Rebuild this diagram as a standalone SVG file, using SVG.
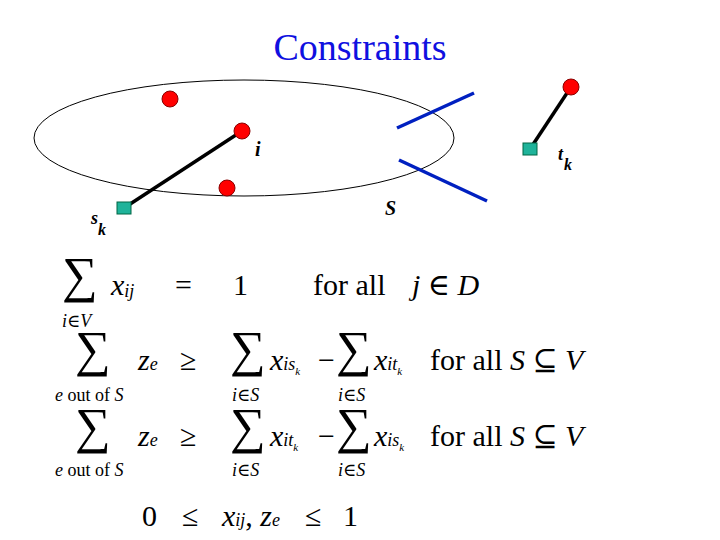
<svg xmlns="http://www.w3.org/2000/svg" width="720" height="540" viewBox="0 0 720 540" font-family="'Times New Roman','Liberation Serif','DejaVu Serif',serif">
<style>
.t{font-family:"Times New Roman","Liberation Serif","DejaVu Serif",serif;fill:#000}
.n{fill:#f00;stroke:#800;stroke-width:1}
.q{fill:#1fb39a;stroke:#064;stroke-width:1}
.bl{stroke:#0020c0;stroke-width:3.5}
.k{stroke:#000;stroke-width:3.5}
.sm{font-size:18px;font-style:italic}
.big{font-size:30px}
.sg{font-size:50px}
.it{font-style:italic}
</style>
<rect width="720" height="540" fill="#fff"/>
<text class="t" x="360" y="60" text-anchor="middle" font-size="38" style="fill:#1010e0">Constraints</text>
<ellipse id="S-set" cx="244" cy="138" rx="210" ry="58" fill="none" stroke="#000" stroke-width="1"/>
<g id="edges">
<line class="k" x1="124" y1="208" x2="242" y2="131"/>
<line class="k" x1="530" y1="149" x2="571" y2="87"/>
<line class="bl" x1="397" y1="128" x2="474" y2="93"/>
<line class="bl" x1="399" y1="160" x2="487" y2="201"/>
</g>
<g id="n1"><circle class="n" cx="170" cy="99" r="8"/></g>
<g id="ni"><circle class="n" cx="242" cy="131" r="8"/><text class="t it" x="255" y="156" font-size="20" font-weight="bold">i</text></g>
<g id="n3"><circle class="n" cx="227" cy="188" r="8"/></g>
<g id="n4"><circle class="n" cx="571" cy="87" r="8"/></g>
<g id="sk"><rect class="q" x="117" y="202" width="14" height="12"/><text class="t it" x="91" y="224" font-size="18" font-weight="bold">s</text><text class="t it" x="98" y="235" font-size="16" font-weight="bold">k</text></g>
<g id="tk"><rect class="q" x="523" y="143" width="14" height="12"/><text class="t it" x="558" y="160" font-size="18" font-weight="bold">t</text><text class="t it" x="564" y="170" font-size="16" font-weight="bold">k</text></g>
<text class="t it" x="385" y="215" font-size="20" font-weight="bold">S</text>
<g id="eqs" class="t">
<text class="t sg" x="62" y="292">∑</text>
<text class="t big it" x="111" y="295">x<tspan font-size="18" dy="2">ij</tspan></text>
<text class="t big" x="175" y="295">=</text>
<text class="t big" x="233" y="295">1</text>
<text class="t big" x="313" y="295">for all</text>
<text class="t big it" x="412" y="295">j <tspan font-style="normal">∈</tspan> D</text>
<text class="t sm" x="62" y="327">i<tspan font-style="normal">∈</tspan>V</text>

<text class="t sg" x="75" y="366">∑</text>
<text class="t big it" x="138" y="370">z<tspan font-size="18">e</tspan></text>
<text class="t big" x="180" y="370">≥</text>
<text class="t sg" x="230" y="366">∑</text>
<text class="t big it" x="270" y="370">x<tspan font-size="18">is</tspan><tspan font-size="11" dy="5">k</tspan></text>
<text class="t big" x="318" y="370">−</text>
<text class="t sg" x="336" y="366">∑</text>
<text class="t big it" x="374" y="370">x<tspan font-size="18">it</tspan><tspan font-size="11" dy="5">k</tspan></text>
<text class="t big" x="430" y="370">for all <tspan font-style="italic">S</tspan> ⊆ <tspan font-style="italic">V</tspan></text>
<text class="t" x="55" y="401" font-size="18"><tspan font-style="italic">e</tspan> out of <tspan font-style="italic">S</tspan></text>
<text class="t sm" x="232" y="401">i<tspan font-style="normal">∈</tspan>S</text>
<text class="t sm" x="338" y="401">i<tspan font-style="normal">∈</tspan>S</text>

<text class="t sg" x="75" y="443">∑</text>
<text class="t big it" x="138" y="446">z<tspan font-size="18">e</tspan></text>
<text class="t big" x="180" y="446">≥</text>
<text class="t sg" x="230" y="443">∑</text>
<text class="t big it" x="270" y="446">x<tspan font-size="18">it</tspan><tspan font-size="11" dy="5">k</tspan></text>
<text class="t big" x="318" y="446">−</text>
<text class="t sg" x="336" y="443">∑</text>
<text class="t big it" x="374" y="446">x<tspan font-size="18">is</tspan><tspan font-size="11" dy="5">k</tspan></text>
<text class="t big" x="430" y="446">for all <tspan font-style="italic">S</tspan> ⊆ <tspan font-style="italic">V</tspan></text>
<text class="t" x="55" y="476" font-size="18"><tspan font-style="italic">e</tspan> out of <tspan font-style="italic">S</tspan></text>
<text class="t sm" x="232" y="476">i<tspan font-style="normal">∈</tspan>S</text>
<text class="t sm" x="338" y="476">i<tspan font-style="normal">∈</tspan>S</text>

<text class="t big" x="142" y="526">0</text>
<text class="t big" x="182" y="526">≤</text>
<text class="t big it" x="222" y="526">x<tspan font-size="18">ij</tspan><tspan font-style="normal">, </tspan>z<tspan font-size="18">e</tspan></text>
<text class="t big" x="305" y="526">≤</text>
<text class="t big" x="343" y="526">1</text>
</g>
</svg>
